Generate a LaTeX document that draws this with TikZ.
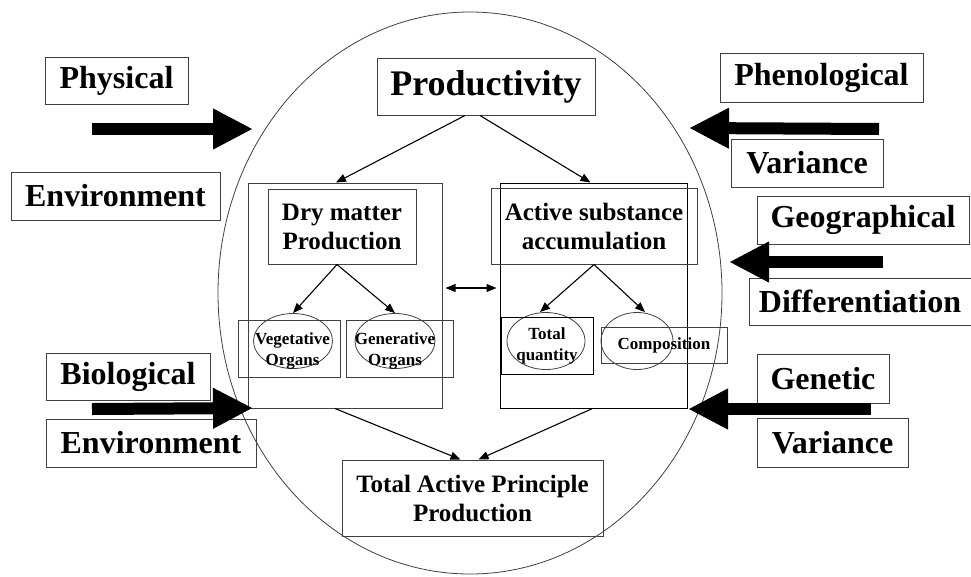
\documentclass[tikz,border=0pt]{standalone}
\usepackage{fontspec}
\setmainfont{Liberation Serif}
\usetikzlibrary{shapes.geometric,arrows.meta}

\begin{document}
\begin{tikzpicture}[x=1pt, y=-1pt,
		box/.style={draw=black!75, line width=1pt, inner sep=0pt, align=center},
		big/.style={box, font=\fontsize{32}{36}\selectfont\bfseries},
		mid/.style={box, font=\fontsize{25}{29}\selectfont\bfseries},
		tiny/.style={inner sep=0pt, align=center, font=\fontsize{17}{21}\selectfont\bfseries},
		oval/.style={ellipse, draw=black!75, line width=0.8pt, inner sep=0pt},
		fat/.style={line width=12pt, -{Triangle[length=40pt, width=38pt]}},
		link/.style={line width=1.1pt, -{Triangle[length=10pt, width=8pt]}}]
		\useasboundingbox (0,0) rectangle (971,576);
		\node[oval, minimum width=504pt, minimum height=562pt] (Cell) at (470,293) {};
		\node[box, font=\fontsize{36}{40}\selectfont\bfseries, minimum width=218pt, minimum height=57pt] (Productivity) at (486,86.5) {Productivity};
		\node[box, minimum width=194pt, minimum height=225pt] (Dry frame) at (345,295.5) {};
		\node[mid, minimum width=148pt, minimum height=75pt] (Dry matter) at (342,226.5) {Dry matter\\Production};
		\node[box, minimum width=102pt, minimum height=57pt] (Vegetative box) at (289,348.5) {};
		\node[box, minimum width=107pt, minimum height=57pt] (Generative box) at (399.5,348.5) {};
		\node[oval, minimum width=79pt, minimum height=55pt] (Vegetative) at (293,341) {};
		\node[oval, minimum width=80pt, minimum height=55pt] (Generative) at (395,341) {};
		\node[tiny] (Vegetative text) at (292.5,351) {Vegetative\\Organs};
		\node[tiny] (Generative text) at (395,351) {Generative\\Organs};
		\node[box, draw=black, minimum width=187pt, minimum height=225pt] (Active frame) at (593.5,295.5) {};
		\node[mid, minimum width=206pt, minimum height=76pt] (Active substance) at (594,226) {Active substance\\accumulation};
		\node[oval, minimum width=78pt, minimum height=57pt] (Total) at (546,341) {};
		\node[box, draw=black, tiny, minimum width=92pt, minimum height=57pt] (Total quantity) at (547,345.5) {Total\\quantity};
		\node[oval, minimum width=72pt, minimum height=57pt] (Composition oval) at (637,341) {};
		\node[box, tiny, minimum width=126pt, minimum height=36pt] (Composition) at (664,345) {Composition};
		\node[mid, minimum width=261pt, minimum height=76pt] (Total production) at (472.5,498) {Total Active Principle\\Production};
		% Factors
		\node[big, minimum width=143pt, minimum height=47pt] (Physical) at (116.5,80.5) {Physical};
		\node[big, minimum width=209pt, minimum height=48pt] (Environment) at (115.5,196) {Environment};
		\node[big, minimum width=164pt, minimum height=47pt] (Biological) at (128,376.5) {Biological};
		\node[big, minimum width=210pt, minimum height=48pt] (Environment2) at (151,443) {Environment};
		\node[big, minimum width=203pt, minimum height=49pt] (Phenological) at (821.5,77.5) {Phenological};
		\node[big, minimum width=152pt, minimum height=48pt] (Variance) at (807,163) {Variance};
		\node[big, minimum width=212pt, minimum height=48pt] (Geographical) at (863,220) {Geographical};
		\node[big, minimum width=222pt, minimum height=47pt] (Differentiation) at (860,301.5) {Differentiation};
		\node[big, minimum width=132pt, minimum height=49pt] (Genetic) at (823,378.5) {Genetic};
		\node[big, minimum width=151pt, minimum height=49pt] (Variance2) at (832.5,442.5) {Variance};
		\coordinate (Physical tail) at (92,129);
		\coordinate (Physical tip) at (253,129);
		\coordinate (Biological tail) at (92,409);
		\coordinate (Biological tip) at (253,408);
		\coordinate (Phenological tail) at (879,129);
		\coordinate (Phenological tip) at (689,128);
		\coordinate (Geographical tail) at (883,262);
		\coordinate (Geographical tip) at (729,262);
		\coordinate (Genetic tail) at (871,409);
		\coordinate (Genetic tip) at (688,409);
		% Arrows
		\draw[fat] (Physical tail) -- (Physical tip);
		\draw[fat] (Biological tail) -- (Biological tip);
		\draw[fat] (Phenological tail) -- (Phenological tip);
		\draw[fat] (Geographical tail) -- (Geographical tip);
		\draw[fat] (Genetic tail) -- (Genetic tip);
		\draw[link] ([xshift=-21pt]Productivity.south) -- ([xshift=-9pt]Dry frame.north);
		\draw[link] ([xshift=-6pt]Productivity.south) -- ([xshift=-3pt]Active frame.north);
		\draw[link] ([xshift=-5pt]Dry matter.south) -- (Vegetative.north);
		\draw[link] ([xshift=-5pt]Dry matter.south) -- (Generative.north);
		\draw[link] (Active substance.south) -- ([xshift=-6pt]Total.north);
		\draw[link] (Active substance.south) -- ([xshift=8pt]Composition oval.north);
		\draw[link, {Triangle[length=10pt, width=8pt]}-{Triangle[length=10pt, width=8pt]}] ([xshift=3pt, yshift=7.5pt]Dry frame.east) -- ([xshift=-3pt, yshift=7.5pt]Active frame.west);
		\draw[link] ([xshift=-10pt]Dry frame.south) -- ([xshift=-12pt]Total production.north);
		\draw[link] ([xshift=-1pt]Active frame.south) -- ([xshift=6pt]Total production.north);
	\end{tikzpicture}
\end{document}
